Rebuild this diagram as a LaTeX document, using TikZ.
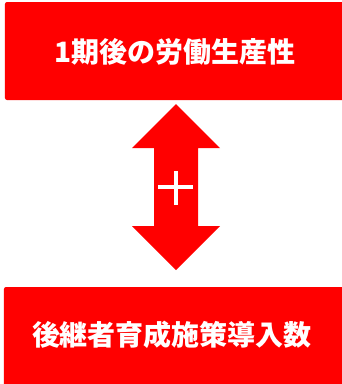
\documentclass[tikz,border=0pt]{standalone}
\usepackage{fontspec}
\newfontfamily\cjk{Noto Sans CJK JP}
\definecolor{boxred}{RGB}{255,0,0}
\begin{document}
\begin{tikzpicture}[x=1pt,y=-1pt,
  redbox/.style={fill=boxred, draw=none, rounded corners=2pt},
  boxtext/.style={text=white, font=\cjk\bfseries\fontsize{28}{32}\selectfont}]
\useasboundingbox (0,0) rectangle (342,384);
\fill[redbox] (5,2) rectangle (346,100);
\node[boxtext] (top) at (175,52) {1期後の労働生産性};
\fill[redbox] (4,287) rectangle (346,390);
\node[boxtext] (bot) at (172,335) {後継者育成施策導入数};
\fill[boxred] (176,104) -- (220,148) -- (198,148) -- (198,226) -- (220,226) -- (176,270)
  -- (132,226) -- (154,226) -- (154,148) -- (132,148) -- cycle;
\coordinate (pc) at (176,187);
\draw[white, line width=4] ([xshift=-18]pc) -- ([xshift=17]pc);
\draw[white, line width=4] ([yshift=-18]pc) -- ([yshift=16]pc);
\end{tikzpicture}
\end{document}
